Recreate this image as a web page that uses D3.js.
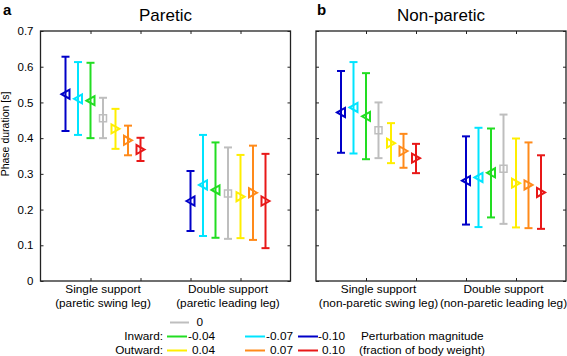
<!DOCTYPE html>
<html>
<head>
<meta charset="utf-8">
<script src="https://cdn.jsdelivr.net/npm/d3@7"></script>
<style>
  body { margin: 0; background: #fff; }
  svg { font-family: "Liberation Sans", Arial, Helvetica, sans-serif; }
  .axis text { font-size: 11.5px; fill: #000; }
  .axis line { stroke: #222; stroke-width: 1; }
</style>
</head>
<body>
<div id="chart"></div>
<script>
// perturbation magnitudes, in plotting order inside each group
var magnitudes = ["-0.10", "-0.07", "-0.04", "0", "0.04", "0.07", "0.10"];
var colors = ["#0000c8", "#00e4ff", "#22dd22", "#bebebe", "#ffee00", "#ff8a1a", "#e81818"];
var yTicks = [0, 0.1, 0.2, 0.3, 0.4, 0.5, 0.6, 0.7];

// paretic panel
var pareticSingleMean  = [0.523, 0.510, 0.505, 0.456, 0.426, 0.394, 0.368];
var pareticSingleLow   = [0.420, 0.409, 0.400, 0.400, 0.370, 0.352, 0.336];
var pareticSingleHigh  = [0.628, 0.613, 0.611, 0.513, 0.482, 0.435, 0.401];
var pareticDoubleMean  = [0.224, 0.269, 0.255, 0.245, 0.236, 0.247, 0.224];
var pareticDoubleLow   = [0.140, 0.126, 0.121, 0.118, 0.120, 0.115, 0.092];
var pareticDoubleHigh  = [0.308, 0.409, 0.388, 0.374, 0.353, 0.379, 0.356];

// non-paretic panel
var nonpareticSingleMean = [0.472, 0.486, 0.461, 0.422, 0.386, 0.364, 0.344];
var nonpareticSingleLow  = [0.359, 0.357, 0.341, 0.344, 0.330, 0.317, 0.302];
var nonpareticSingleHigh = [0.588, 0.613, 0.582, 0.500, 0.442, 0.412, 0.384];
var nonpareticDoubleMean = [0.281, 0.290, 0.303, 0.314, 0.274, 0.269, 0.248];
var nonpareticDoubleLow  = [0.158, 0.151, 0.178, 0.160, 0.150, 0.148, 0.146];
var nonpareticDoubleHigh = [0.405, 0.429, 0.427, 0.466, 0.399, 0.388, 0.352];

var pareticLabels = [["Single support", "(paretic swing leg)"], ["Double support", "(paretic leading leg)"]];
var nonpareticLabels = [["Single support", "(non-paretic swing leg)"], ["Double support", "(non-paretic leading leg)"]];

var width = 567, height = 356;
var fontSize = 11.8;

var svg = d3.select("#chart")
    .append("svg")
    .attr("width", width)
    .attr("height", height);

var y = d3.scaleLinear().domain([0, 0.7]).range([281, 31]);

function groupRows(mean, low, high) {
    return mean.map(function(m, i) {
        return { i: i, mean: m, low: low[i], high: high[i] };
    });
}

function markerPath(i) {
    if (i < 3) return "M-4,0L4,-4.5L4,4.5Z";      // inward: left pointing
    if (i > 3) return "M4,0L-4,-4.5L-4,4.5Z";      // outward: right pointing
    return "M-3.5,-3.5H3.5V3.5H-3.5Z";
}

function drawPanel(left, title, letter, groups, labels, showYLabels) {
    var x = d3.scaleLinear().domain([0, 5]).range([left, left + 250]);
    var g = svg.append("g");

    // inward ticks on all four sides
    g.append("g").attr("class", "axis")
        .attr("transform", "translate(0,281)")
        .call(d3.axisBottom(x).tickValues([1, 2, 3, 4]).tickSize(-3).tickFormat(""))
        .select(".domain").remove();
    g.append("g").attr("class", "axis")
        .attr("transform", "translate(0,31)")
        .call(d3.axisTop(x).tickValues([1, 2, 3, 4]).tickSize(-3).tickFormat(""))
        .select(".domain").remove();
    g.append("g").attr("class", "axis")
        .attr("transform", `translate(${left},0)`)
        .call(d3.axisLeft(y).tickValues(yTicks).tickSize(-3).tickPadding(7)
            .tickFormat(showYLabels ? d3.format(".1~f") : ""))
        .select(".domain").remove();
    g.append("g").attr("class", "axis")
        .attr("transform", `translate(${left + 250},0)`)
        .call(d3.axisRight(y).tickValues(yTicks).tickSize(-3).tickFormat(""))
        .select(".domain").remove();

    g.append("rect")
        .attr("x", left).attr("y", 31)
        .attr("width", 250).attr("height", 250)
        .attr("fill", "none")
        .attr("stroke", "#222")
        .attr("stroke-width", 1.3);

    groups.forEach(function(rows, gi) {
        var start = gi === 0 ? 0.5 : 3.0;
        var px = function(d) { return x(start + d.i * 0.25); };

        var bars = g.selectAll(".bar" + gi)
            .data(rows)
            .join("g")
            .attr("class", "bar" + gi)
            .attr("stroke", function(d) { return colors[d.i]; })
            .attr("stroke-width", 2)
            .attr("fill", "none");

        bars.append("line")
            .attr("x1", px).attr("x2", px)
            .attr("y1", function(d) { return y(d.low); })
            .attr("y2", function(d) { return y(d.high); });
        bars.append("line")
            .attr("x1", function(d) { return px(d) - 4; })
            .attr("x2", function(d) { return px(d) + 4; })
            .attr("y1", function(d) { return y(d.low); })
            .attr("y2", function(d) { return y(d.low); });
        bars.append("line")
            .attr("x1", function(d) { return px(d) - 4; })
            .attr("x2", function(d) { return px(d) + 4; })
            .attr("y1", function(d) { return y(d.high); })
            .attr("y2", function(d) { return y(d.high); });
        bars.append("path")
            .attr("d", function(d) { return markerPath(d.i); })
            .attr("stroke-width", function(d) { return d.i === 3 ? 1.5 : 2; })
            .attr("stroke-linejoin", "miter")
            .attr("transform", function(d) { return `translate(${px(d)},${y(d.mean)})`; });

        var lab = g.append("text")
            .attr("x", x(start + 0.75))
            .attr("text-anchor", "middle")
            .attr("font-size", fontSize);
        lab.append("tspan").attr("x", x(start + 0.75)).attr("y", 293).text(labels[gi][0]);
        lab.append("tspan").attr("x", x(start + 0.75)).attr("y", 307).text(labels[gi][1]);
    });

    g.append("text")
        .attr("x", left + 125)
        .attr("y", 21)
        .attr("text-anchor", "middle")
        .attr("font-size", 17)
        .text(title);

    g.append("text")
        .attr("x", letter.x)
        .attr("y", 15)
        .attr("font-size", 15)
        .attr("font-weight", "bold")
        .text(letter.t);
}

drawPanel(40.5, "Paretic", { t: "a", x: 3 },
    [groupRows(pareticSingleMean, pareticSingleLow, pareticSingleHigh),
     groupRows(pareticDoubleMean, pareticDoubleLow, pareticDoubleHigh)],
    pareticLabels, true);

drawPanel(316, "Non-paretic", { t: "b", x: 317 },
    [groupRows(nonpareticSingleMean, nonpareticSingleLow, nonpareticSingleHigh),
     groupRows(nonpareticDoubleMean, nonpareticDoubleLow, nonpareticDoubleHigh)],
    nonpareticLabels, false);

// y axis title
svg.append("text")
    .attr("transform", "translate(9,134) rotate(-90)")
    .attr("text-anchor", "middle")
    .attr("font-size", 10.5)
    .text("Phase duration [s]");

// legend
var legend = svg.append("g").attr("font-size", fontSize);
// columns: line start, text right edge
var legendCols = [{ x: 167, tx: 215 }, { x: 245, tx: 293 }, { x: 298, tx: 345 }];
var legendRows = [
    { label: "Inward:", items: [2, 1, 0], base: 340 },
    { label: "Outward:", items: [4, 5, 6], base: 354 }
];

legend.append("line")
    .attr("x1", 170).attr("x2", 189)
    .attr("y1", 322.5).attr("y2", 322.5)
    .attr("stroke", colors[3]).attr("stroke-width", 2);
legend.append("text")
    .attr("x", 203).attr("y", 326)
    .attr("text-anchor", "end")
    .text(magnitudes[3]);

legendRows.forEach(function(r) {
    legend.append("text")
        .attr("x", 163).attr("y", r.base)
        .attr("text-anchor", "end")
        .text(r.label);
    r.items.forEach(function(ci, k) {
        legend.append("line")
            .attr("x1", legendCols[k].x).attr("x2", legendCols[k].x + 20)
            .attr("y1", r.base - 3.5).attr("y2", r.base - 3.5)
            .attr("stroke", colors[ci]).attr("stroke-width", 2);
        legend.append("text")
            .attr("x", legendCols[k].tx).attr("y", r.base)
            .attr("text-anchor", "end")
            .text(magnitudes[ci]);
    });
});

legend.append("text").attr("x", 361).attr("y", 339.5).text("Perturbation magnitude");
legend.append("text").attr("x", 359).attr("y", 353.5).text("(fraction of body weight)");
</script>
</body>
</html>
